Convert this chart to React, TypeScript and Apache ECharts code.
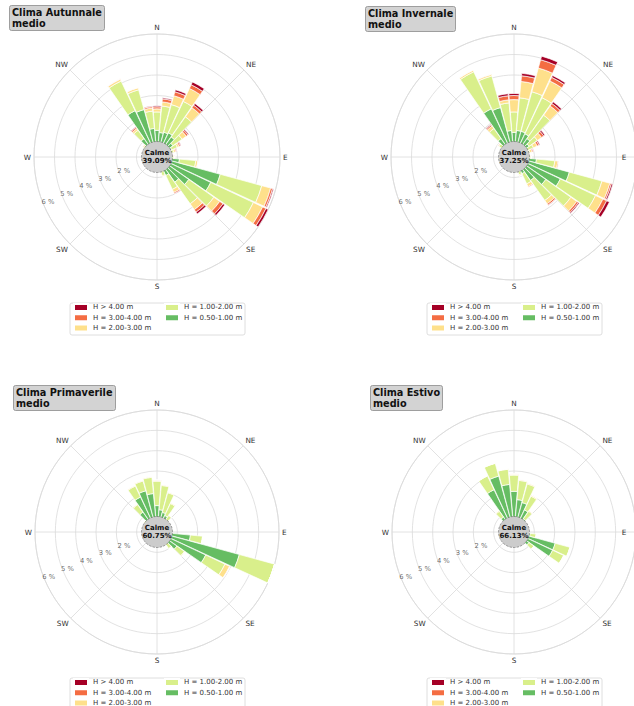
import React, { useEffect, useRef } from 'react';
import * as echarts from 'echarts';

// ---------- categories ----------
const SECTORS = Array.from({ length: 36 }, (_, i) => `${i * 10}°`);
const COMPASS = ['N', 'NE', 'E', 'SE', 'S', 'SW', 'W', 'NW'];
const RING_LABELS = [2, 3, 4, 5, 6];
const CLASS_NAMES = ['H = 0.50-1.00 m', 'H = 1.00-2.00 m', 'H = 2.00-3.00 m', 'H = 3.00-4.00 m', 'H > 4.00 m'];
const CLASS_COLORS = ['#66bd63', '#d9ef8b', '#fee08b', '#f46d43', '#a50026'];
const TITLES = ['Clima Autunnale\nmedio', 'Clima Invernale\nmedio', 'Clima Primaverile\nmedio', 'Clima Estivo\nmedio'];
const CALM = [39.09, 37.25, 60.75, 66.13];

// ---------- data (% frequency, sectors 0°..350° step 10°) ----------
const AUT_05 = [1.3,1.2,1.25,1.3,1.2,0.95,0.8,0.6,0.5,0.55, 1.1,3.2,2.9,1.9,1.5,1.0,0.7,0.45,0.35,0.3, 0.25,0.2,0.2,0.2,0.2,0.2,0.2,0.25,0.25,0.3, 0.4,0.5,1.1,2.5,2.4,1.4];
const AUT_12 = [0.9,1.3,1.4,1.7,1.2,0.55,0.3,0.25,0.2,0.25, 0.8,2.1,2.3,1.5,1.3,0.75,0.25,0.15,0.1,0.1, 0.08,0.05,0.05,0.05,0.05,0.05,0.05,0.05,0.08,0.1, 0.15,0.3,0.5,1.6,1.0,0.85];
const AUT_23 = [0.15,0.2,0.45,0.7,0.55,0.25,0.1,0.1,0.05,0.05, 0.1,0.45,0.5,0.35,0.35,0.17,0.05,0.03,0.02,0.02, 0.02,0.02,0.02,0.02,0.02,0.02,0.02,0.02,0.02,0.02, 0.03,0.05,0.1,0.1,0.1,0.15];
const AUT_34 = [0.1,0.15,0.2,0.2,0.15,0.1,0.07,0.05,0.03,0.02, 0.02,0.1,0.18,0.2,0.15,0.06,0.01,0,0,0, 0,0,0,0,0,0,0,0,0,0, 0,0.02,0.07,0.02,0.02,0.07];
const AUT_4 = [0.05,0.05,0.1,0.15,0.1,0.05,0.03,0.02,0.01,0, 0,0.05,0.12,0.1,0.1,0.02,0,0,0,0, 0,0,0,0,0,0,0,0,0,0, 0,0,0.03,0,0,0.03];

const INV_05 = [1.2,1.3,1.3,1.25,1.1,0.9,0.7,0.55,0.5,0.55, 1.1,2.8,2.5,1.9,1.4,0.9,0.6,0.4,0.3,0.25, 0.2,0.2,0.2,0.2,0.2,0.2,0.2,0.25,0.25,0.3, 0.4,0.6,1.1,2.6,2.5,1.3];
const INV_12 = [1.0,1.6,2.0,1.95,1.4,0.5,0.35,0.25,0.2,0.25, 0.9,1.65,1.9,1.5,1.2,0.55,0.3,0.15,0.1,0.08, 0.08,0.05,0.05,0.05,0.05,0.05,0.05,0.08,0.08,0.1, 0.15,0.3,0.6,2.0,1.6,1.35];
const INV_23 = [0.6,0.8,1.2,0.9,0.55,0.25,0.2,0.12,0.05,0.05, 0.15,0.4,0.4,0.35,0.2,0.15,0.05,0.03,0.02,0.02, 0.02,0.02,0.02,0.02,0.02,0.02,0.02,0.02,0.02,0.02, 0.03,0.05,0.15,0.08,0.08,0.15];
const INV_34 = [0.2,0.28,0.42,0.2,0.15,0.13,0.1,0.06,0.02,0.01, 0.05,0.08,0.2,0.1,0.08,0.05,0.02,0,0,0, 0,0,0,0,0,0,0,0,0,0, 0,0.02,0.07,0.02,0.02,0.2];
const INV_4 = [0.1,0.12,0.18,0.1,0.1,0.07,0.05,0.02,0.01,0, 0,0.07,0.15,0.05,0.02,0,0,0,0,0, 0,0,0,0,0,0,0,0,0,0, 0,0,0.03,0,0,0.1];

const PRI_05 = [1.3,1.1,1.0,0.9,0.7,0.5,0.4,0.35,0.35,0.4, 1.65,4.2,2.65,1.2,0.7,0.45,0.35,0.3,0.25,0.25, 0.2,0.2,0.2,0.2,0.2,0.2,0.2,0.25,0.25,0.3, 0.4,0.6,1.2,1.9,2.1,1.9];
const PRI_12 = [1.2,1.2,1.0,0.65,0.3,0.2,0.15,0.1,0.1,0.12, 0.6,1.8,1.05,0.45,0.3,0.15,0.1,0.05,0.05,0.05, 0.05,0.05,0.05,0.05,0.05,0.05,0.05,0.05,0.05,0.05, 0.1,0.2,0.45,0.6,0.5,0.8];
const PRI_23 = [0.05,0.05,0.05,0.05,0.02,0.01,0.01,0,0,0, 0.02,0,0.25,0.05,0.02,0,0,0,0,0, 0,0,0,0,0,0,0,0,0,0, 0,0.01,0.05,0.05,0.05,0.05];
const PRI_34 = [0.01,0,0,0,0,0,0,0,0,0, 0,0,0.02,0,0,0,0,0,0,0, 0,0,0,0,0,0,0,0,0,0, 0,0,0,0,0,0];
const PRI_4 = [0,0,0,0,0,0,0,0,0,0, 0,0,0,0,0,0,0,0,0,0, 0,0,0,0,0,0,0,0,0,0, 0,0,0,0,0,0];

const EST_05 = [2.0,1.6,1.5,1.2,0.8,0.5,0.35,0.3,0.3,0.4, 0.8,2.1,2.1,0.9,0.5,0.35,0.3,0.2,0.2,0.2, 0.2,0.2,0.2,0.2,0.2,0.2,0.2,0.2,0.2,0.25, 0.35,0.5,0.9,2.3,2.85,2.35];
const EST_12 = [0.8,0.95,0.95,0.75,0.45,0.2,0.12,0.08,0.08,0.1, 0.3,0.75,0.6,0.3,0.2,0.1,0.08,0.04,0.04,0.04, 0.04,0.04,0.04,0.04,0.04,0.04,0.04,0.04,0.04,0.04, 0.1,0.2,0.35,0.75,0.65,0.75];
const EST_23 = [0.05,0.05,0.05,0.05,0.05,0.02,0.01,0,0,0, 0.01,0.02,0.02,0.01,0,0,0,0,0,0, 0,0,0,0,0,0,0,0,0,0, 0,0.01,0.05,0.02,0.02,0.03];
const EST_34 = [0.01,0.01,0.01,0.01,0,0,0,0,0,0, 0,0,0,0,0,0,0,0,0,0, 0,0,0,0,0,0,0,0,0,0, 0,0,0,0,0,0];
const EST_4 = [0,0,0,0,0,0,0,0,0,0, 0,0,0,0,0,0,0,0,0,0, 0,0,0,0,0,0,0,0,0,0, 0,0,0,0,0,0];

const PANEL_DATA = [
  [AUT_05, AUT_12, AUT_23, AUT_34, AUT_4],
  [INV_05, INV_12, INV_23, INV_34, INV_4],
  [PRI_05, PRI_12, PRI_23, PRI_34, PRI_4],
  [EST_05, EST_12, EST_23, EST_34, EST_4],
];

// ---------- layout ----------
const W = 634;
const PANELS = [
  { cx: 157, cy: 157, r: 123, tx: 9, ty: 5 },
  { cx: 514, cy: 157, r: 123, tx: 365, ty: 6 },
  { cx: 157, cy: 532, r: 122, tx: 13, ty: 385 },
  { cx: 514, cy: 532, r: 122, tx: 370, ty: 385 },
];
const FONT = 'DejaVu Sans';
const GRID = '#dadada';

function buildOption() {
  const title: any[] = [];
  const polar: any[] = [];
  const angleAxis: any[] = [];
  const radiusAxis: any[] = [];
  const series: any[] = [];
  const legend: any[] = [];
  const graphic: any[] = [];

  PANELS.forEach((p, i) => {
    const eClipped = p.cx + p.r + 12 > W;
    title.push({
      text: TITLES[i], left: p.tx, top: p.ty,
      backgroundColor: '#d3d3d3', borderColor: '#8a8a8a', borderWidth: 0.8, borderRadius: 2,
      padding: [2, 3, 2, 3],
      textStyle: { fontFamily: FONT, fontSize: 9.7, fontWeight: 'bold', color: '#111', lineHeight: 11 },
    });
    polar.push({ center: [p.cx, p.cy], radius: [0, p.r] });
    polar.push({ center: [p.cx, p.cy], radius: [0, p.r] });
    const g = 2 * i, b = 2 * i + 1;
    angleAxis.push({
      polarIndex: g, type: 'value', min: 0, max: 360, interval: 45, startAngle: 90, clockwise: true,
      axisLine: { show: true, lineStyle: { color: GRID, width: 0.8 } },
      axisTick: { show: false },
      splitLine: { show: true, lineStyle: { color: GRID, width: 0.8 } },
      axisLabel: {
        margin: 3, fontSize: 7.3, color: '#333', fontFamily: FONT,
        formatter: (v: number) => {
          const name = COMPASS[Math.round(v / 45) % 8];
          return eClipped && name === 'E' ? '' : name;
        },
      },
    });
    angleAxis.push({
      polarIndex: b, type: 'category', data: SECTORS, startAngle: 95, clockwise: true,
      axisLine: { show: false }, axisTick: { show: false }, axisLabel: { show: false }, splitLine: { show: false },
    });
    radiusAxis.push({
      polarIndex: g, type: 'value', min: 0, max: 6, interval: 1,
      axisLine: { show: false }, axisTick: { show: false }, axisLabel: { show: false },
      splitLine: { show: true, lineStyle: { color: GRID, width: 0.8 } },
    });
    radiusAxis.push({
      polarIndex: b, type: 'value', min: 0, max: 6,
      axisLine: { show: false }, axisTick: { show: false }, axisLabel: { show: false }, splitLine: { show: false },
    });
    series.push({
      type: 'scatter', coordinateSystem: 'polar', polarIndex: g, silent: true,
      symbolSize: 1, itemStyle: { color: 'rgba(0,0,0,0)' },
      data: RING_LABELS.map((v) => [v, 247.5]),
      label: {
        show: true, position: 'inside', offset: [4.5, -2],
        formatter: (pp: any) => `${pp.value[0]} %`,
        fontSize: 6.8, color: '#444', fontFamily: FONT,
      },
      z: 3,
    });
    PANEL_DATA[i].forEach((arr, k) => {
      series.push({
        type: 'bar', coordinateSystem: 'polar', polarIndex: b, stack: 'rose' + i,
        name: CLASS_NAMES[k], data: arr, barCategoryGap: '6%',
        itemStyle: { color: CLASS_COLORS[k], borderColor: '#ffffff', borderWidth: 0.7 },
        silent: true, z: 4,
      });
    });
    series.push({
      type: 'pie', center: [p.cx, p.cy], radius: [0, 15.5], silent: true, z: 8,
      data: [{ value: CALM[i], name: 'Calme' }],
      itemStyle: { color: '#cccccc', borderColor: '#666', borderWidth: 0.6, borderType: 'dashed' },
      labelLine: { show: false },
      emphasis: { disabled: true },
      label: {
        show: true, position: 'center',
        formatter: `{a|Calme}\n{a|${CALM[i].toFixed(2)}%}`,
        rich: { a: { fontFamily: FONT, fontSize: 7, fontWeight: 'bold', color: '#111', lineHeight: 8.5 } },
      },
    });
    const legendCommon = {
      orient: 'vertical', icon: 'rect', itemWidth: 14, itemHeight: 7, itemGap: 0.5, padding: 0,
      selectedMode: false, top: p.cy + 145.5, height: 40, width: 90,
      textStyle: { fontFamily: FONT, fontSize: 7, color: '#333', lineHeight: 9.8 },
    };
    legend.push({ ...legendCommon, left: p.cx - 84, data: [CLASS_NAMES[4], CLASS_NAMES[3], CLASS_NAMES[2]] });
    legend.push({ ...legendCommon, left: p.cx + 7, data: [CLASS_NAMES[1], CLASS_NAMES[0]] });
    graphic.push({
      type: 'rect', z: 0, silent: true,
      shape: { x: p.cx - 87, y: p.cy + 146, width: 175, height: 32, r: 2 },
      style: { fill: '#ffffff', stroke: '#d6d6d6', lineWidth: 0.8 },
    });
    if (eClipped) {
      // the "E" label would fall outside the page: keep it at the right edge
      graphic.push({
        type: 'text', z: 10, silent: true, x: W - 10, y: p.cy,
        style: { text: 'E', fontFamily: FONT, fontSize: 7.3, fill: '#333', align: 'center', verticalAlign: 'middle' },
      });
    }
  });

  return {
    animation: false,
    backgroundColor: '#ffffff',
    title, polar, angleAxis, radiusAxis, series, legend, graphic,
  };
}

export default function App() {
  const ref = useRef<HTMLDivElement>(null);
  useEffect(() => {
    const chart = echarts.init(ref.current!, null, { renderer: 'svg' });
    chart.setOption(buildOption() as any);
    return () => chart.dispose();
  }, []);
  return (
    <div
      ref={ref}
      style={{ position: 'absolute', left: 0, top: 0, width: 634, height: 706, background: '#fff' }}
    />
  );
}
